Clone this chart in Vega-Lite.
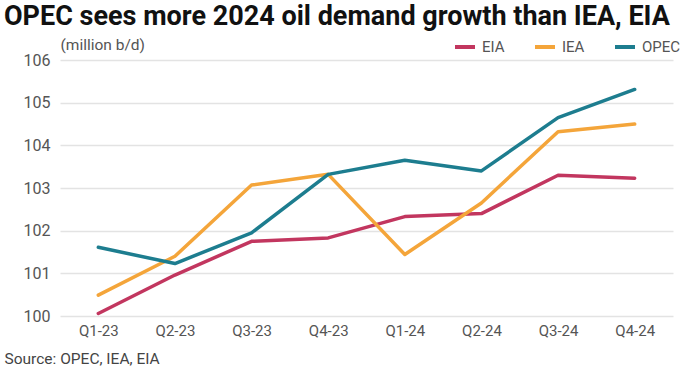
{
  "$schema": "https://vega.github.io/schema/vega-lite/v6.json",
  "autosize": {"type": "none"},
  "width": 613,
  "height": 256,
  "padding": {"left": 60, "top": 60, "right": 7, "bottom": 60},
  "background": "white",
  "view": {"stroke": null},
  "title": {
    "text": "OPEC sees more 2024 oil demand growth than IEA, EIA",
    "anchor": "start",
    "frame": "group",
    "dx": -56,
    "font": "Roboto",
    "fontSize": 27,
    "fontWeight": "bold",
    "color": "#111111",
    "offset": 4
  },
  "data": {
    "values": [
      {"q": "Q1-23", "src": "EIA", "v": 100.06},
      {"q": "Q2-23", "src": "EIA", "v": 100.96},
      {"q": "Q3-23", "src": "EIA", "v": 101.75},
      {"q": "Q4-23", "src": "EIA", "v": 101.83},
      {"q": "Q1-24", "src": "EIA", "v": 102.33},
      {"q": "Q2-24", "src": "EIA", "v": 102.40},
      {"q": "Q3-24", "src": "EIA", "v": 103.30},
      {"q": "Q4-24", "src": "EIA", "v": 103.23},
      {"q": "Q1-23", "src": "IEA", "v": 100.49},
      {"q": "Q2-23", "src": "IEA", "v": 101.40},
      {"q": "Q3-23", "src": "IEA", "v": 103.07},
      {"q": "Q4-23", "src": "IEA", "v": 103.32},
      {"q": "Q1-24", "src": "IEA", "v": 101.44},
      {"q": "Q2-24", "src": "IEA", "v": 102.65},
      {"q": "Q3-24", "src": "IEA", "v": 104.32},
      {"q": "Q4-24", "src": "IEA", "v": 104.50},
      {"q": "Q1-23", "src": "OPEC", "v": 101.61},
      {"q": "Q2-23", "src": "OPEC", "v": 101.23},
      {"q": "Q3-23", "src": "OPEC", "v": 101.95},
      {"q": "Q4-23", "src": "OPEC", "v": 103.32},
      {"q": "Q1-24", "src": "OPEC", "v": 103.65},
      {"q": "Q2-24", "src": "OPEC", "v": 103.40},
      {"q": "Q3-24", "src": "OPEC", "v": 104.65},
      {"q": "Q4-24", "src": "OPEC", "v": 105.31}
    ]
  },
  "mark": {"type": "line", "strokeWidth": 3.5, "strokeCap": "round", "strokeJoin": "round"},
  "encoding": {
    "x": {
      "field": "q",
      "type": "ordinal",
      "sort": null,
      "scale": {"type": "point", "padding": 0.5},
      "axis": {
        "title": "Source: OPEC, IEA, EIA",
        "titleAnchor": "start",
        "titleAlign": "left",
        "titleX": -56,
        "titleY": 35,
        "titleFont": "Roboto",
        "titleFontSize": 15.5,
        "titleFontWeight": "normal",
        "titleColor": "#444444",
        "labelAngle": 0,
        "labelFont": "Roboto",
        "labelFontSize": 15,
        "labelColor": "#555555",
        "labelPadding": 7,
        "domain": false,
        "ticks": false,
        "grid": false
      }
    },
    "y": {
      "field": "v",
      "type": "quantitative",
      "scale": {"domain": [100, 106], "nice": false, "zero": false},
      "axis": {
        "title": "(million b/d)",
        "titleAngle": 0,
        "titleAlign": "left",
        "titleBaseline": "bottom",
        "titleX": 0,
        "titleY": -8,
        "titleFont": "Roboto",
        "titleFontSize": 15.5,
        "titleFontWeight": "normal",
        "titleColor": "#555555",
        "values": [100, 101, 102, 103, 104, 105, 106],
        "labelFont": "Roboto",
        "labelFontSize": 16,
        "labelColor": "#555555",
        "labelPadding": 10,
        "domain": false,
        "ticks": false,
        "grid": true,
        "gridColor": "#e3e3e3",
        "gridWidth": 1.5
      }
    },
    "color": {
      "field": "src",
      "type": "nominal",
      "scale": {"domain": ["EIA", "IEA", "OPEC"], "range": ["#c2365f", "#f4a53a", "#1d7d8f"]},
      "legend": {
        "title": null,
        "orient": "none",
        "direction": "horizontal",
        "legendX": 393,
        "legendY": -25,
        "symbolType": "stroke",
        "symbolStrokeWidth": 4,
        "symbolSize": 400,
        "labelFont": "Roboto",
        "labelFontSize": 15,
        "labelColor": "#555555",
        "columnPadding": 22,
        "labelOffset": 5
      }
    }
  }
}
